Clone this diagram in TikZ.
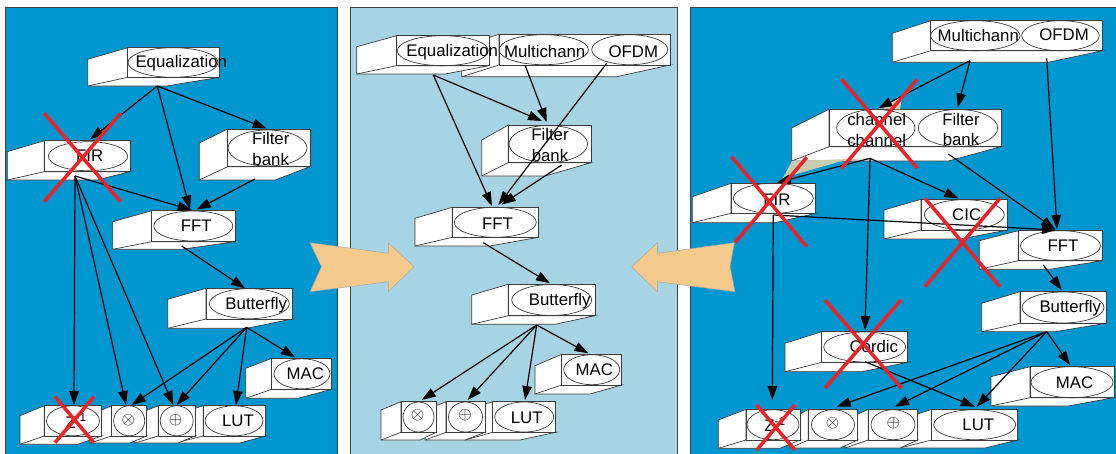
\documentclass[tikz,border=0pt]{standalone}
\usepackage{fontspec}
\setmainfont{Liberation Sans}
\usetikzlibrary{arrows.meta}
\definecolor{pblue}{RGB}{0,150,208}
\definecolor{plight}{RGB}{166,212,228}
\definecolor{porange}{RGB}{243,201,140}
\definecolor{boxgray}{RGB}{60,60,60}
\definecolor{xred}{RGB}{235,35,40}
\definecolor{olivegray}{RGB}{200,205,178}
\tikzset{
 sideface/.style={draw=boxgray, fill=white, line width=0.7pt, line join=miter},
 frontface/.style={draw=boxgray, fill=white, line width=0.7pt, rectangle, inner sep=0pt, outer sep=0pt},
 ell/.style={draw=boxgray, line width=0.7pt},
 lbl/.style={font=\fontsize{16.8}{20.5}\selectfont, inner sep=0pt, align=center},
 sym/.style={font=\fontsize{19}{19}\selectfont, inner sep=0pt},
 edge/.style={draw=black, line width=1.2pt, -{Triangle[length=14pt,width=9.5pt]}},
 cross/.style={draw=xred, line width=3.5pt},
 olive/.style={fill=olivegray},
 bigarrow/.style={fill=porange, draw=gray!70, line width=0.5pt},
 panel/.style={draw=gray!50!black, line width=0.8pt}
}
% name, x1, y1, x2, y2, back-left x, back-top y, back-bottom y, back-bottom-right x
\newcommand\threedbox[9]{%
 \draw[sideface] (#2,#3) -- (#6,#7) -- (#6,#8) -- (#9,#8) -- (#4,#5) -- (#2,#5) -- cycle;
 \draw[sideface] (#2,#5) -- (#6,#8);
 \node[frontface, minimum width={(#4-#2)*1pt}, minimum height={(#5-#3)*1pt}] (#1) at ({(#2+#4)/2},{(#3+#5)/2}) {};
}
\newcommand\ovalin[4]{\draw[ell] (#1,#2) ellipse [x radius=#3, y radius=#4];}
\begin{document}
\begin{tikzpicture}[x=1pt,y=-1pt]
\useasboundingbox (0,0) rectangle (1116,453);
\fill[white] (0,0) rectangle (1116,453);
% panels
\draw[panel, fill=pblue] (5,7.3) rectangle (337.7,470);
\draw[panel, fill=plight] (350.7,7.3) rectangle (677.3,470);
\draw[panel, fill=pblue] (690,7.3) rectangle (1130,470);

% ---------------- left panel ----------------
\threedbox{lEq}{127.7}{47.7}{219.3}{77.3}{87.7}{59.3}{86}{166.7}
\ovalin{173}{62.5}{45}{14.8}
\node[lbl] (tlEq) at (181.3,63.3) {Equalization};
\threedbox{lFIR}{44.3}{140.7}{130}{171.7}{7.3}{151.7}{180}{97}
\ovalin{88}{156.2}{39.7}{14.5}
\node[lbl] (tlFIR) at (89.7,156) {FIR};
\threedbox{lFB}{227.7}{129}{310}{166.7}{199.3}{143}{180}{275}
\ovalin{267.5}{148}{39.5}{18}
\node[lbl] (tlFB) at (270.7,148.8) {Filter\\bank};
\threedbox{lFFT}{151.7}{210.7}{235}{241.7}{112.7}{221.7}{249.3}{181.7}
\ovalin{193.3}{226}{39.5}{15}
\node[lbl] (tlFFT) at (196.2,226) {FFT};
\threedbox{lBut}{206}{288.3}{292.3}{319}{167.7}{299.3}{328.3}{246.7}
\ovalin{249.3}{303.7}{40}{15}
\node[lbl] (tlBut) at (256.3,305) {Butterfly};
\threedbox{lMAC}{271.7}{358.3}{331.7}{389.3}{245.7}{368.3}{398.3}{298}
\ovalin{302}{373.8}{28}{15}
\node[lbl] (tlMAC) at (305.3,374) {MAC};
\threedbox{lLUT}{203.3}{405.7}{265}{436}{175}{415}{443}{240}
\ovalin{234}{420.8}{29}{15}
\node[lbl] (tlLUT) at (238,421) {LUT};
\threedbox{lAdd}{158.3}{405.7}{195}{436}{135}{415}{443}{178}
\ovalin{176.7}{420.8}{16.5}{15}
\node[sym] (tlAdd) at (175.7,420.5) {$\oplus$};
\threedbox{lMul}{111.7}{405.7}{146.7}{436}{90}{415}{443}{130}
\ovalin{129.2}{420.8}{15.5}{15}
\node[sym] (tlMul) at (128.3,420.5) {$\otimes$};
\threedbox{lZ}{44.3}{405.7}{101.7}{436}{20}{415.7}{444.3}{78}
\ovalin{73}{420.8}{26.5}{15}
\node[lbl] (tlZ) at (76,421) {Z\textsuperscript{-1}};

% ---------------- middle panel ----------------
\threedbox{mMC}{499}{34.3}{670}{65}{461.7}{46}{76.7}{616.7}
\ovalin{543.7}{49.7}{44.7}{15}
\ovalin{629.7}{49.7}{38}{15}
\node[lbl] (tmMC) at (544.7,51.7) {Multichann};
\node[lbl] (tmOF) at (633.3,51.7) {OFDM};
\threedbox{mEq}{396.7}{35.7}{489}{65.7}{356.7}{46.7}{74}{445}
\ovalin{442.8}{50.7}{45.5}{15}
\node[lbl] (tmEq) at (452.2,51.7) {Equalization};
\threedbox{mFB}{508.3}{125}{591}{162.7}{481.7}{140}{176}{545}
\ovalin{548.3}{144}{39.3}{18.5}
\node[lbl] (tmFB) at (550,145) {Filter\\bank};
\threedbox{mFFT}{452.3}{207.3}{538.3}{237.3}{415}{218.3}{246}{490}
\ovalin{495.3}{222.3}{41}{15}
\node[lbl] (tmFFT) at (497.5,224) {FFT};
\threedbox{mBut}{508.3}{284.3}{595}{315.7}{471.7}{295}{324.3}{555}
\ovalin{551.7}{300}{40}{15.5}
\node[lbl] (tmBut) at (559.7,301) {Butterfly};
\threedbox{mMAC}{561.7}{354.3}{621.7}{385}{535}{365.7}{394}{590}
\ovalin{591.7}{369.7}{28}{15}
\node[lbl] (tmMAC) at (594.3,370) {MAC};
\threedbox{mLUT}{492.7}{401.7}{555.7}{432.3}{465}{410}{440}{520}
\ovalin{524.2}{417}{29.5}{15}
\node[lbl] (tmLUT) at (526.7,417.3) {LUT};
\threedbox{mAdd}{446}{401.7}{485}{432.3}{425}{410}{440}{465}
\ovalin{465.5}{417}{17}{15}
\node[sym] (tmAdd) at (465,415.5) {$\oplus$};
\threedbox{mMul}{401}{401.7}{436}{432.3}{381}{410}{440}{420}
\ovalin{418.5}{417}{15.5}{15}
\node[sym] (tmMul) at (417.7,415.5) {$\otimes$};

% ---------------- right panel ----------------
\threedbox{rMC}{930.7}{20.7}{1102.7}{50.7}{892.3}{33.3}{62.3}{1048.3}
\ovalin{975.3}{35.7}{44.7}{15}
\ovalin{1060.5}{35.7}{38.8}{15}
\node[lbl] (trMC) at (978.3,35) {Multichann};
\node[lbl] (trOF) at (1064,35) {OFDM};
\threedbox{rCh}{829}{109.3}{1001}{146.7}{791.7}{128}{161}{948.3}
\ovalin{875.8}{128}{39.2}{18.5}
\ovalin{958}{128}{39.7}{18.5}
\node[lbl] (trCh) at (876.7,130) {channel\\channel};
\node[lbl] (trFB) at (961,129.7) {Filter\\bank};
\threedbox{rFIR}{731}{183.3}{815.7}{213.3}{692.3}{196.7}{222.7}{775}
\ovalin{773.3}{198.3}{40}{15}
\node[lbl] (trFIR) at (777,200) {FIR};
\threedbox{rCIC}{921}{199.3}{1007.7}{230}{884}{210}{239}{960}
\ovalin{964.3}{214.7}{40}{15}
\node[lbl] (trCIC) at (966.7,215) {CIC};
\threedbox{rFFT}{1018.3}{230.7}{1102.7}{260.7}{979.3}{240.7}{269.3}{1050}
\ovalin{1060.5}{245.7}{40}{15}
\node[lbl] (trFFT) at (1063,246) {FFT};
\threedbox{rBut}{1020}{291.7}{1106}{323.3}{981.7}{303.3}{331.7}{1055}
\ovalin{1063}{307.5}{41}{15.5}
\node[lbl] (trBut) at (1070.3,308.3) {Butterfly};
\threedbox{rCor}{821.7}{331.7}{907.7}{362.3}{785}{343.3}{371.7}{862}
\ovalin{864.7}{347}{41}{15}
\node[lbl] (trCor) at (873.8,346.7) {Cordic};
\threedbox{rMAC}{1030}{366.7}{1114}{397.7}{991}{376.7}{406}{1068}
\ovalin{1072}{382.2}{41}{15.5}
\node[lbl] (trMAC) at (1074.5,382.3) {MAC};
\threedbox{rLUT}{931.7}{409.3}{1017.7}{440}{900}{420}{448}{985}
\ovalin{974.7}{424.7}{41}{15}
\node[lbl] (trLUT) at (978.3,424.5) {LUT};
\threedbox{rAdd}{868.3}{409.3}{917.7}{440}{845}{420}{448}{900}
\ovalin{893}{424.7}{22}{15}
\node[sym] (trAdd) at (893.3,423.3) {$\oplus$};
\threedbox{rMul}{808.3}{409.3}{857.7}{440}{790}{420}{448}{840}
\ovalin{833}{424.7}{21.5}{15}
\node[sym] (trMul) at (832.7,423.3) {$\otimes$};
\threedbox{rZ}{746}{409.3}{800}{440}{718.3}{420}{448.3}{780}
\ovalin{773}{424.7}{26}{15}
\node[lbl] (trZ) at (775,424.5) {Z\textsuperscript{-1}};

% olive slivers
\fill[olive] (879,108.5) -- (902,97) -- (900,109.5) -- cycle;
\fill[olive] (783,178) -- (792,161) -- (870,158.3) -- (840,161.5) -- cycle;
\fill[olive] (92,136) -- (100,129) -- (103,133) -- cycle;

% big orange arrows
\draw[bigarrow] (310,242.7) -- (388.3,253.3) -- (388.3,242.7) -- (414,266.7) -- (388.3,291.7) -- (388.3,281.7) -- (310,291.7) -- (321.5,266.7) -- cycle;
\draw[bigarrow] (631.7,266.7) -- (657.3,242.7) -- (657.3,253.3) -- (734.3,242.7) -- (730,266.7) -- (735,291.7) -- (657.3,281.7) -- (657.3,291.7) -- cycle;

% ---------------- connector points ----------------
\coordinate (lEq-o) at (157.3,86);
\coordinate (lFIR-o) at (75,176);
\coordinate (lFB-o) at (255,179);
\coordinate (lFFT-o) at (181.7,246);
\coordinate (lBut-o) at (246.7,327.3);
\coordinate (lFIR-i) at (90,139.5);
\coordinate (lFFT-i1) at (190,209.5);
\coordinate (lFFT-i2) at (196.7,209.5);
\coordinate (lFFT-i3) at (191.7,210);
\coordinate (lFB-i) at (266.7,128.5);
\coordinate (lZ-i) at (74,405);
\coordinate (lMul-i1) at (126,405);
\coordinate (lMul-i2) at (131.7,405);
\coordinate (lAdd-i1) at (173.3,405);
\coordinate (lAdd-i2) at (176.7,405);
\coordinate (lLUT-i) at (236,405);
\coordinate (lBut-i) at (245,288.3);
\coordinate (lMAC-i) at (295,357.3);

\coordinate (mEq-o) at (433.3,75);
\coordinate (mMC-o) at (525,65);
\coordinate (mOF-o) at (606.7,63.3);
\coordinate (mFB-o) at (561.7,165);
\coordinate (mFFT-o) at (483.3,242.7);
\coordinate (mBut-o) at (536.7,325);
\coordinate (mFFT-i1) at (492,206);
\coordinate (mFFT-i2) at (498.3,205);
\coordinate (mFFT-i3) at (501.7,204.5);
\coordinate (mFB-i1) at (542,121);
\coordinate (mFB-i2) at (546.7,122);
\coordinate (mBut-i) at (550,283.3);
\coordinate (mMul-i) at (421.7,400);
\coordinate (mAdd-i) at (467.7,400);
\coordinate (mLUT-i) at (525,400);
\coordinate (mMAC-i) at (588.3,353.3);

\coordinate (rMC-o) at (970,60.7);
\coordinate (rOF-o) at (1046.7,58.3);
\coordinate (rFB-o) at (948.3,154);
\coordinate (rCh-o) at (870,158.3);
\coordinate (rFIR-o) at (773.3,215);
\coordinate (rFFT-o) at (1043.3,265);
\coordinate (rBut-o) at (1046.7,331.7);
\coordinate (rCor-o) at (865,361.7);
\coordinate (rCh-i) at (878.3,108.3);
\coordinate (rFB-i) at (957.7,107.3);
\coordinate (rFFT-i1) at (1057,229);
\coordinate (rFFT-i2) at (1055,229);
\coordinate (rFFT-i3) at (1056,230);
\coordinate (rFIR-i) at (776.7,182.7);
\coordinate (rCIC-i) at (958.3,198.3);
\coordinate (rCor-i) at (865,330);
\coordinate (rZ-i) at (772.3,400);
\coordinate (rBut-i) at (1061.7,290);
\coordinate (rMul-i) at (836.7,406.7);
\coordinate (rAdd-i) at (895,406.7);
\coordinate (rLUT-i1) at (976.7,406.7);
\coordinate (rLUT-i2) at (975,406.7);
\coordinate (rMAC-i) at (1070,365);

% ---------------- connectors ----------------
\draw[edge] (lEq-o) -- (lFIR-i);
\draw[edge] (lEq-o) -- (lFFT-i1);
\draw[edge] (lEq-o) -- (lFB-i);
\draw[edge] (lFB-o) -- (lFFT-i2);
\draw[edge] (lFIR-o) -- (lFFT-i3);
\draw[edge] (lFIR-o) -- (lZ-i);
\draw[edge] (lFIR-o) -- (lMul-i1);
\draw[edge] (lFIR-o) -- (lAdd-i1);
\draw[edge] (lFFT-o) -- (lBut-i);
\draw[edge] (lBut-o) -- (lMul-i2);
\draw[edge] (lBut-o) -- (lAdd-i2);
\draw[edge] (lBut-o) -- (lLUT-i);
\draw[edge] (lBut-o) -- (lMAC-i);

\draw[edge] (mEq-o) -- (mFFT-i1);
\draw[edge] (mEq-o) -- (mFB-i1);
\draw[edge] (mMC-o) -- (mFB-i2);
\draw[edge] (mOF-o) -- (mFFT-i2);
\draw[edge] (mFB-o) -- (mFFT-i3);
\draw[edge] (mFFT-o) -- (mBut-i);
\draw[edge] (mBut-o) -- (mMul-i);
\draw[edge] (mBut-o) -- (mAdd-i);
\draw[edge] (mBut-o) -- (mLUT-i);
\draw[edge] (mBut-o) -- (mMAC-i);

\draw[edge] (rMC-o) -- (rCh-i);
\draw[edge] (rMC-o) -- (rFB-i);
\draw[edge] (rOF-o) -- (rFFT-i1);
\draw[edge] (rFB-o) -- (rFFT-i2);
\draw[edge] (rCh-o) -- (rFIR-i);
\draw[edge] (rCh-o) -- (rCIC-i);
\draw[edge] (rCh-o) -- (rCor-i);
\draw[edge] (rFIR-o) -- (rFFT-i3);
\draw[edge] (rFIR-o) -- (rZ-i);
\draw[edge] (rFFT-o) -- (rBut-i);
\draw[edge] (rBut-o) -- (rMul-i);
\draw[edge] (rBut-o) -- (rAdd-i);
\draw[edge] (rBut-o) -- (rLUT-i1);
\draw[edge] (rBut-o) -- (rMAC-i);
\draw[edge] (rCor-o) -- (rLUT-i2);

% ---------------- red crosses ----------------
\draw[cross] (44.3,113.3) -- (120.7,201.7) (120.7,113.3) -- (44.3,201.7);
\draw[cross] (55,396.7) -- (94,442.7) (94,396.7) -- (55,442.7);
\draw[cross] (841.7,79.3) -- (917.3,168.3) (917.3,79.3) -- (841.7,168.3);
\draw[cross] (731.7,156.7) -- (806.7,246.5) (806.7,157.3) -- (735,242.7);
\draw[cross] (925,198.3) -- (1000,286.7) (1000,198.3) -- (925,286.7);
\draw[cross] (825,300) -- (901.7,388.3) (901,300) -- (825,388.3);
\draw[cross] (756.7,405) -- (795,450) (795,405) -- (756.7,450);
\end{tikzpicture}
\end{document}
